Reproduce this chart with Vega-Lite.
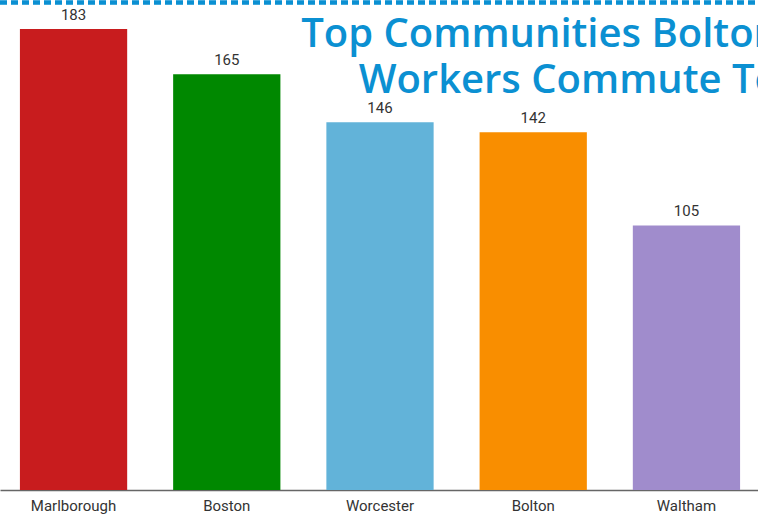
{
  "$schema": "https://vega.github.io/schema/vega-lite/v6.json",
  "width": 760,
  "height": 490,
  "autosize": {"type": "none"},
  "padding": {"left": 0, "top": 0, "right": 0, "bottom": 27},
  "background": "white",
  "config": {"view": {"stroke": null}},
  "title": {
    "text": ["Top Communities Bolton", "Workers Commute To"],
    "anchor": "end",
    "frame": "group",
    "align": "right",
    "font": "Open Sans",
    "fontWeight": 600,
    "fontSize": 40,
    "color": "#0b90d2",
    "lineHeight": 46,
    "dx": 19,
    "dy": 101,
    "offset": 0
  },
  "data": {
    "values": [
      {"town": "Marlborough", "workers": 183},
      {"town": "Boston", "workers": 165},
      {"town": "Worcester", "workers": 146},
      {"town": "Bolton", "workers": 142},
      {"town": "Waltham", "workers": 105}
    ]
  },
  "encoding": {
    "x": {
      "field": "town",
      "type": "nominal",
      "sort": null,
      "scale": {"paddingInner": 0.3, "paddingOuter": 0.13},
      "axis": {
        "title": null,
        "labelAngle": 0,
        "ticks": false,
        "domainColor": "#666666",
        "domainWidth": 1.5,
        "labelFont": "Roboto",
        "labelFontSize": 15,
        "labelColor": "#333333",
        "labelPadding": 8
      }
    }
  },
  "layer": [
    {
      "mark": {"type": "bar"},
      "encoding": {
        "y": {
          "field": "workers",
          "type": "quantitative",
          "scale": {"domain": [0, 194.5], "nice": false, "zero": true},
          "axis": null
        },
        "color": {
          "field": "town",
          "type": "nominal",
          "scale": {
            "domain": ["Marlborough", "Boston", "Worcester", "Bolton", "Waltham"],
            "range": ["#c81c1e", "#008800", "#62b3d9", "#f98e00", "#a08ccc"]
          },
          "legend": null
        }
      }
    },
    {
      "mark": {"type": "text", "dy": -9, "baseline": "alphabetic", "font": "Roboto", "fontSize": 15, "color": "#333333"},
      "encoding": {
        "y": {"field": "workers", "type": "quantitative"},
        "text": {"field": "workers", "type": "quantitative"}
      }
    },
    {
      "mark": {"type": "rule", "color": "#0b90d2", "strokeWidth": 3.5, "strokeDash": [7, 4]},
      "encoding": {
        "x": {"value": 0},
        "x2": {"value": 760},
        "y": {"datum": 193.5}
      }
    }
  ]
}
